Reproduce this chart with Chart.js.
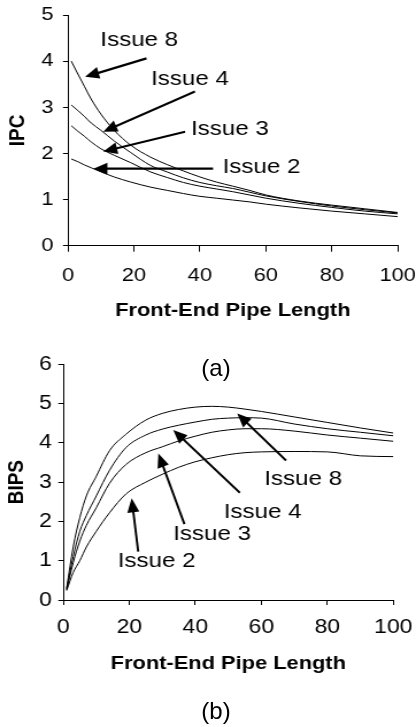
<!DOCTYPE html>
<html>
<head>
<meta charset="utf-8">
<script src="https://cdn.jsdelivr.net/npm/chart.js@4.4.1/dist/chart.umd.min.js"></script>
<style>
  html, body { margin: 0; padding: 0; background: #ffffff; }
  body { width: 416px; height: 727px; position: relative; overflow: hidden; }
  canvas { position: absolute; left: 0; }
  .cap { position: absolute; left: 216px; transform: translate(-50%, -50%);
         font-family: "Liberation Sans", Arial, sans-serif; font-size: 24px; line-height: 1;
         color: #000; white-space: nowrap; z-index: 2; }
</style>
</head>
<body>
<canvas id="ipcChart" width="362" height="345" style="top:0;width:416px;height:345px"></canvas>
<canvas id="bipsChart" width="362" height="382" style="top:345px;width:416px;height:382px"></canvas>
<div class="cap" style="top:368px">(a)</div>
<div class="cap" style="top:711px">(b)</div>
<script>
// ---------------- data ----------------
const pipeLength = [1, 3, 5, 7, 10, 14, 19, 25, 30, 35, 40, 45, 50, 55, 60, 70, 80, 90, 100];

const ipcIssue8 = [4.00, 3.72, 3.45, 3.18, 2.85, 2.50, 2.18, 1.92, 1.76, 1.62, 1.49, 1.38, 1.29, 1.20, 1.10, 0.97, 0.88, 0.80, 0.72];
const ipcIssue4 = [3.05, 2.93, 2.80, 2.66, 2.50, 2.27, 2.02, 1.74, 1.60, 1.47, 1.37, 1.30, 1.24, 1.16, 1.08, 0.96, 0.86, 0.78, 0.71];
const ipcIssue3 = [2.60, 2.48, 2.37, 2.25, 2.10, 1.96, 1.80, 1.60, 1.48, 1.37, 1.29, 1.23, 1.17, 1.10, 1.03, 0.92, 0.83, 0.75, 0.69];
const ipcIssue2 = [1.88, 1.82, 1.75, 1.69, 1.60, 1.49, 1.38, 1.27, 1.20, 1.13, 1.07, 1.03, 0.99, 0.95, 0.90, 0.82, 0.75, 0.69, 0.63];

const bipsIssue8 = [0.30, 1.35, 2.10, 2.65, 3.15, 3.80, 4.22, 4.58, 4.75, 4.85, 4.91, 4.93, 4.91, 4.86, 4.80, 4.66, 4.52, 4.38, 4.25];
const bipsIssue4 = [0.28, 1.10, 1.75, 2.15, 2.65, 3.30, 3.88, 4.20, 4.35, 4.45, 4.53, 4.60, 4.63, 4.64, 4.63, 4.48, 4.36, 4.27, 4.18];
const bipsIssue3 = [0.26, 0.95, 1.50, 1.90, 2.35, 2.97, 3.45, 3.75, 3.90, 4.05, 4.17, 4.27, 4.33, 4.36, 4.36, 4.30, 4.20, 4.12, 4.04];
const bipsIssue2 = [0.24, 0.70, 1.00, 1.35, 1.75, 2.22, 2.70, 3.00, 3.20, 3.38, 3.52, 3.62, 3.70, 3.75, 3.77, 3.78, 3.77, 3.67, 3.65];

const issueNames = ['Issue 8', 'Issue 4', 'Issue 3', 'Issue 2'];
const xTickValues = [0, 20, 40, 60, 80, 100];
const ipcTickValues = [0, 1, 2, 3, 4, 5];
const bipsTickValues = [0, 1, 2, 3, 4, 5, 6];
const xTitle = 'Front-End Pipe Length';
const ipcTitle = 'IPC';
const bipsTitle = 'BIPS';

// ---------------- presentation ----------------
const FAMILY = '"Liberation Sans", Arial, Helvetica, sans-serif';
const S = 416 / 362; // horizontal stretch of the canvases

// annotation placement (data coordinates of each chart)
const ipcNotes = [
  { label: 0, at: [21.6, 4.46], from: [23.8, 4.06], to: [5.2, 3.66] },
  { label: 1, at: [37.0, 3.61], from: [38.5, 3.34], to: [10.7, 2.47] },
  { label: 2, at: [49.1, 2.53], from: [35.5, 2.47], to: [10.7, 2.04] },
  { label: 3, at: [58.7, 1.71], from: [44.0, 1.67], to: [7.7, 1.67] }
];
const bipsNotes = [
  { label: 0, at: [72.7, 3.08], from: [67.5, 3.55], to: [52.7, 4.75] },
  { label: 1, at: [60.4, 2.24], from: [53.5, 2.73], to: [33.3, 4.33] },
  { label: 2, at: [45.1, 1.68], from: [36.7, 1.93], to: [28.8, 3.73] },
  { label: 3, at: [28.3, 0.98], from: [22.7, 1.23], to: [20.7, 2.59] }
];

function notesPlugin(notes) {
  return {
    id: 'issueNotes',
    afterDatasetsDraw(chart) {
      const { ctx } = chart;
      const xs = chart.scales.x, ys = chart.scales.y;
      ctx.save();
      ctx.fillStyle = '#000';
      ctx.strokeStyle = '#000';
      ctx.font = '21px ' + FAMILY;
      ctx.textAlign = 'center';
      ctx.textBaseline = 'middle';
      notes.forEach(n => {
        ctx.fillText(issueNames[n.label], xs.getPixelForValue(n.at[0]), ys.getPixelForValue(n.at[1]));
      });
      // arrows drawn in undistorted screen space
      ctx.scale(1 / S, 1);
      notes.forEach(n => {
        const x1 = xs.getPixelForValue(n.from[0]) * S, y1 = ys.getPixelForValue(n.from[1]);
        const x2 = xs.getPixelForValue(n.to[0]) * S, y2 = ys.getPixelForValue(n.to[1]);
        const a = Math.atan2(y2 - y1, x2 - x1);
        const L = 14, W = 6;
        const bx = x2 - L * Math.cos(a), by = y2 - L * Math.sin(a);
        ctx.lineWidth = 2.2;
        ctx.beginPath(); ctx.moveTo(x1, y1); ctx.lineTo(bx + Math.cos(a), by + Math.sin(a)); ctx.stroke();
        ctx.beginPath();
        ctx.moveTo(x2, y2);
        ctx.lineTo(bx + W * Math.sin(a), by - W * Math.cos(a));
        ctx.lineTo(bx - W * Math.sin(a), by + W * Math.cos(a));
        ctx.closePath();
        ctx.fill();
      });
      ctx.restore();
    }
  };
}

function series(values) {
  return {
    data: pipeLength.map((x, i) => ({ x: x, y: values[i] })),
    borderColor: '#000',
    borderWidth: 1,
    pointRadius: 0,
    fill: false,
    cubicInterpolationMode: 'monotone'
  };
}

function makeChart(id, lists, yMax, yTicks, yTitleText, notes, L) {
  return new Chart(document.getElementById(id), {
    type: 'line',
    data: { datasets: lists.map(series) },
    options: {
      responsive: false,
      animation: false,
      events: [],
      layout: { autoPadding: false, padding: { left: 0, right: L.padRight, top: L.padTop, bottom: 0 } },
      plugins: { legend: { display: false }, tooltip: { enabled: false }, title: { display: false } },
      scales: {
        x: {
          type: 'linear', min: 0, max: 100,
          afterBuildTicks: s => { s.ticks = xTickValues.map(v => ({ value: v })); },
          afterFit: s => { s.height = L.xHeight; s.paddingLeft = 0; s.paddingRight = 0; s.paddingTop = 0; s.paddingBottom = 0; },
          ticks: { color: '#000', font: { family: FAMILY, size: L.xFont }, padding: L.xTickPad, maxRotation: 0, autoSkip: false },
          grid: { display: true, drawOnChartArea: false, drawTicks: true, tickLength: L.xTickLen, color: '#000', lineWidth: 1 },
          border: { display: true, color: '#000', width: 1 },
          title: { display: true, text: xTitle, color: '#000', font: { family: FAMILY, size: 19, weight: 'bold' }, padding: { top: 0, bottom: L.xTitlePad } }
        },
        y: {
          type: 'linear', min: 0, max: yMax,
          afterBuildTicks: s => { s.ticks = yTicks.map(v => ({ value: v })); },
          afterFit: s => { s.width = L.yWidth; s.paddingLeft = 0; s.paddingRight = 0; s.paddingTop = 0; s.paddingBottom = 0; },
          ticks: { color: '#000', font: { family: FAMILY, size: L.yFont }, padding: L.yTickPad },
          grid: { display: true, drawOnChartArea: false, drawTicks: true, tickLength: 5 / S, color: '#000', lineWidth: 1 },
          border: { display: true, color: '#000', width: 1 },
          title: { display: true, text: yTitleText, color: '#000', font: { family: FAMILY, size: 19, weight: 'bold' }, padding: { top: L.yTitlePad, bottom: 0 } }
        }
      }
    },
    plugins: [notesPlugin(notes)]
  });
}

makeChart('ipcChart', [ipcIssue8, ipcIssue4, ipcIssue3, ipcIssue2], 5, ipcTickValues, ipcTitle, ipcNotes, {
  padRight: 362 - 397.7 / S, padTop: 15,
  xHeight: 345 - 245.7, xFont: 19, xTickPad: 12.7, xTickLen: 6, xTitlePad: 23.1,
  yWidth: 68 / S, yFont: 19, yTickPad: 8.2, yTitlePad: 4.5
});

makeChart('bipsChart', [bipsIssue8, bipsIssue4, bipsIssue3, bipsIssue2], 6, bipsTickValues, bipsTitle, bipsNotes, {
  padRight: 362 - 393.3 / S, padTop: 364.3 - 345,
  xHeight: 382 - (600 - 345), xFont: 20, xTickPad: 10.5, xTickLen: 5, xTitlePad: 52.1,
  yWidth: 63.3 / S, yFont: 20, yTickPad: 5.5, yTitlePad: 3.8
});
</script>
</body>
</html>
